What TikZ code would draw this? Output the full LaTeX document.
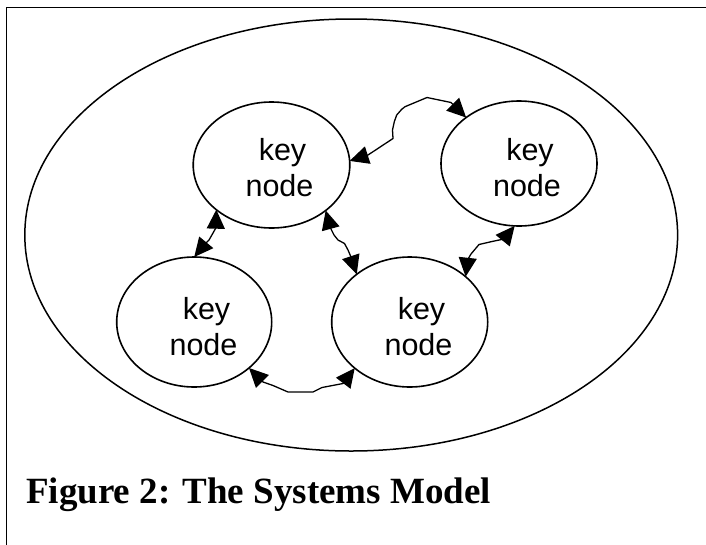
\documentclass[tikz,border=0pt]{standalone}
\usepackage{fontspec}
\usetikzlibrary{arrows.meta,shapes.geometric}
\newfontfamily\labelfont{Liberation Sans}
\newfontfamily\captionfont{Liberation Serif}

\tikzset{
  frameline/.style={line width=1.4pt, line cap=rect},
  sysbound/.style={draw, ellipse, line width=1.5pt, inner sep=0pt, outer sep=0pt,
    minimum width=652.8pt, minimum height=432pt},
  keynode/.style={draw, ellipse, line width=1.6pt, inner sep=0pt, outer sep=0pt},
  keytext/.style={align=center, inner sep=0pt, anchor=base,
    font=\labelfont\fontsize{30.5}{36}\selectfont},
  link/.style={line width=1.3pt, line join=round,
    {Triangle[length=19pt,width=18pt]}-{Triangle[length=19pt,width=18pt]}},
  figcaption/.style={anchor=base west, inner sep=0pt,
    font=\captionfont\bfseries\fontsize{37}{42}\selectfont}
}

\begin{document}
\begin{tikzpicture}[x=1pt, y=-1pt]
  \useasboundingbox (0,0) rectangle (706,544);

  % page frame (top and left rules)
  \draw[frameline] (6.5,544) -- (6.5,7.5) -- (706,7.5);

  % system boundary
  \node[sysbound] (sys) at (351.2,235) {};

  % key nodes
  \node[keynode, minimum width=156.6pt, minimum height=126pt] (tl) at (271.5,165) {};
  \node[keynode, minimum width=156pt,   minimum height=125pt] (tr) at (519,163.5) {};
  \node[keynode, minimum width=155pt,   minimum height=130pt] (bl) at (194.2,322) {};
  \node[keynode, minimum width=156pt,   minimum height=130pt] (br) at (409.7,322) {};

  \node[keytext] (tltxt) at (279.5,196.5) {\hspace*{6pt}key\\node};
  \node[keytext] (trtxt) at (527,196) {\hspace*{6pt}key\\node};
  \node[keytext] (bltxt) at (203.5,355) {\hspace*{6pt}key\\node};
  \node[keytext] (brtxt) at (418.5,355) {\hspace*{6pt}key\\node};

  % interactions between key nodes
  \draw[link] (tl.3.7) -- (368,155) -- (393,138.5) -- (392.5,130) -- (394.3,121.7)
    -- (396.7,115) -- (401.7,109.3) -- (405,106.7) -- (427,97.5) -- (451,102.5) -- (tr.139.7);
  \draw[link] (tl.219.3) -- (215.8,228) -- (213,233) -- (209,240) -- (204.5,244.5) -- (bl.90);
  \draw[link] (tl.-40.1) -- (330.5,228) -- (334,235) -- (338,240) -- (344.5,243.5)
    -- (348,250) -- (351,257) -- (br.138.8);
  \draw[link] (tr.266.8) -- (504,239) -- (492,241.5) -- (479,244.5) -- (471,254)
    -- (467.5,260) -- (br.39.6);
  \draw[link] (bl.-40.2) -- (263,382) -- (273,385.5) -- (288,392) -- (313,392)
    -- (322,387.5) -- (343,383.5) -- (br.220.2);

  % caption
  \node[figcaption] (cap) at (26,503) {Figure 2: The Systems Model};
\end{tikzpicture}
\end{document}
